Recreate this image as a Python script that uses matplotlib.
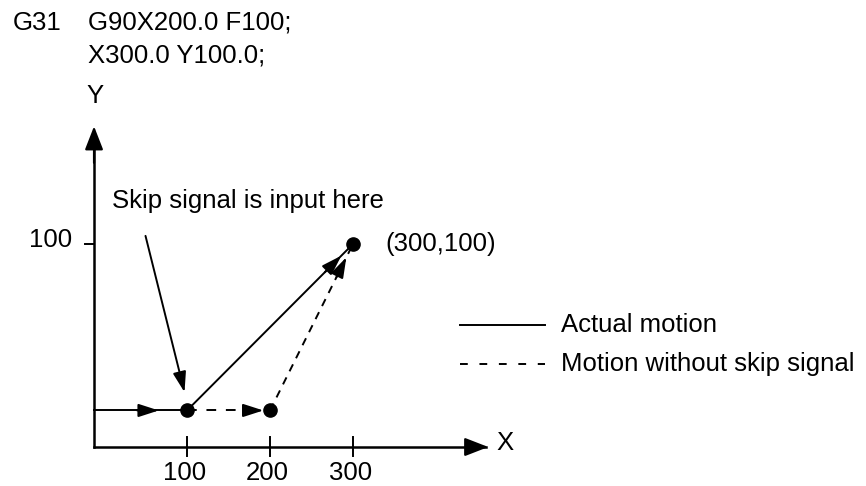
import matplotlib
matplotlib.use("Agg")
import matplotlib.pyplot as plt

plt.rcParams['font.family'] = ['Liberation Sans', 'DejaVu Sans']

# Diagram values (data units)
x_ticks = [100, 200, 300]
y_ticks = [100]
skip_point = (100, 18)      # where the skip signal arrives
programmed_end = (200, 18)  # end of G31 block without skip
target = (300, 100)         # X300.0 Y100.0
axis_origin = (-12, 0)
program_lines = ["G90X200.0 F100;", "X300.0 Y100.0;"]
legend_labels = ["Actual motion", "Motion without skip signal"]

fig = plt.figure(figsize=(8.66, 4.86), dpi=100)
ax = fig.add_axes([0, 0, 1, 1])
# pixel mapping: x px = 104 + 0.83*x ; y px = 447 - 2.03*y
ax.set_xlim((0 - 104) / 0.83, (866 - 104) / 0.83)
ax.set_ylim((447 - 486) / 2.03, 447 / 2.03)
ax.axis('off')

k = 'black'
fs = 18.5
HEAD = '-|>,head_length=0.62,head_width=0.2'
AXHEAD = '-|>,head_length=0.72,head_width=0.28'


def head(x0, y0, x1, y1, lw=1.4, style=HEAD):
    ax.annotate('', xy=(x1, y1), xytext=(x0, y0),
                arrowprops=dict(arrowstyle=style, color=k, lw=lw,
                                shrinkA=0, shrinkB=0, mutation_scale=20))


# axes
ox, oy = axis_origin
ax.plot([ox, 460], [oy, oy], color=k, lw=1.8)
ax.plot([ox, ox], [oy, 150], color=k, lw=1.8)
head(440, oy, 463, oy, lw=1.6, style=AXHEAD)
head(ox, 140, ox, 158, lw=1.6, style=AXHEAD)
ax.text(473, oy + 2, "X", fontsize=fs, va='center', ha='left')
ax.text(ox + 1, 167, "Y", fontsize=fs, va='bottom', ha='center')

for t in x_ticks:
    ax.plot([t, t], [oy - 4.5, oy + 5], color=k, lw=1.4)
    ax.text(t - 3, oy - 7, str(t), fontsize=fs, ha='center', va='top')
for t in y_ticks:
    ax.plot([ox - 11, ox], [t, t], color=k, lw=1.4)
    ax.text(ox - 27, t + 2, str(t), fontsize=fs, ha='right', va='center')

# approach along X to the skip point
sx, sy = skip_point
ax.plot([ox, sx], [sy, sy], color=k, lw=1.4)
head(40, sy, 66, sy)

# actual motion: skip point -> target
tx, ty = target
ax.plot([sx, tx], [sy, ty], color=k, lw=1.4)
f = 0.93
head(sx + (tx - sx) * (f - 0.1), sy + (ty - sy) * (f - 0.1),
     sx + (tx - sx) * f, sy + (ty - sy) * f)

# motion without skip signal
px_, py_ = programmed_end
ax.plot([sx, px_], [sy, py_], color=k, lw=1.4, ls=(0, (5, 5)))
head(172, py_, 192, py_)
ax.plot([px_, tx], [py_, ty], color=k, lw=1.4, ls=(0, (4, 3.5)))
head(px_ + (tx - px_) * 0.8, py_ + (ty - py_) * 0.8,
     px_ + (tx - px_) * 0.92, py_ + (ty - py_) * 0.92)

# points
ax.plot([sx, px_, tx], [sy, py_, ty], 'o', color=k, ms=9.5)

# skip signal pointer
ax.annotate('', xy=(sx - 3, sy + 9), xytext=(50, 104),
            arrowprops=dict(arrowstyle=HEAD, color=k, lw=1.4,
                            shrinkA=0, shrinkB=0, mutation_scale=20))
ax.text(10, 121, "Skip signal is input here", fontsize=fs, ha='left', va='center')
ax.text(tx + 39, ty, "(300,100)", fontsize=fs, ha='left', va='center')

# program text
ax.text(-110, 209, "G31", fontsize=fs, ha='left', va='center')
ax.text(-19, 209, program_lines[0], fontsize=fs, ha='left', va='center')
ax.text(-19, 193, program_lines[1], fontsize=fs, ha='left', va='center')

# legend
ax.plot([429, 531], [60, 60], color=k, lw=1.4)
ax.text(551, 60, legend_labels[0], fontsize=fs, ha='left', va='center')
ax.plot([429, 531], [41, 41], color=k, lw=1.4, ls=(0, (4, 6)))
ax.text(551, 41, legend_labels[1], fontsize=fs, ha='left', va='center')

fig.savefig("out.png", dpi=100)
